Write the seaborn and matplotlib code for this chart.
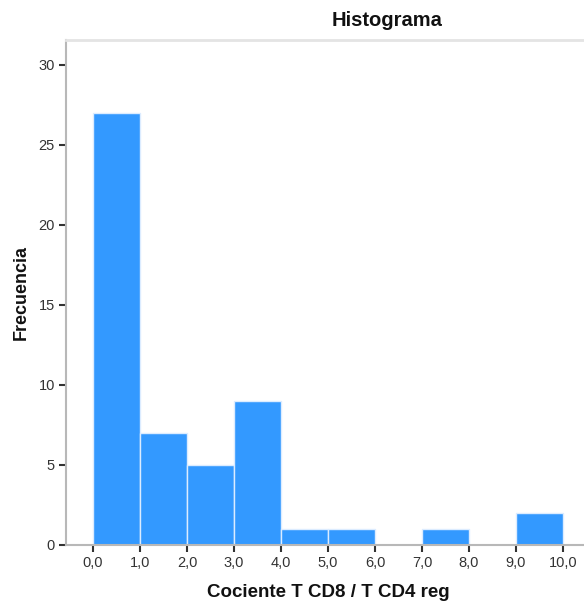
import numpy as np
import pandas as pd
import seaborn as sns
import matplotlib
matplotlib.use("Agg")
import matplotlib.pyplot as plt

bin_edges = [0, 1, 2, 3, 4, 5, 6, 7, 8, 9, 10]
counts = [27, 7, 5, 9, 1, 1, 0, 1, 0, 2]
x_ticks = [0, 1, 2, 3, 4, 5, 6, 7, 8, 9, 10]
x_tick_labels = ["0,0", "1,0", "2,0", "3,0", "4,0", "5,0", "6,0", "7,0", "8,0", "9,0", "10,0"]
y_ticks = [0, 5, 10, 15, 20, 25, 30]

sns.set_theme(style="white")
plt.rcParams['font.family'] = ['Liberation Sans', 'DejaVu Sans']

W, H = 584, 603
fig = plt.figure(figsize=(W / 100, H / 100), dpi=100)
left_px, right_px = 66, 708
top_px, bottom_px = 40, 545
ax = fig.add_axes([left_px / W, 1 - bottom_px / H, (right_px - left_px) / W, (bottom_px - top_px) / H])

centers = [(bin_edges[i] + bin_edges[i + 1]) / 2 for i in range(len(counts))]
df = pd.DataFrame({"x": centers, "w": counts})
sns.histplot(data=df, x="x", weights="w", bins=bin_edges, ax=ax,
             color="#3399ff", alpha=1.0, edgecolor="#dcecff", linewidth=1.0)

px_per_x = 47.0
x0_px = 93
ax.set_xlim((left_px - x0_px) / px_per_x, (right_px - x0_px) / px_per_x)
ax.set_ylim(0, (bottom_px - top_px) / 16.0)

ax.set_xticks(x_ticks)
ax.set_xticklabels(x_tick_labels)
ax.set_yticks(y_ticks)
ax.tick_params(axis="both", which="both", direction="out", length=5, width=1.5,
               color="#333333", labelsize=10.5, labelcolor="#333333", pad=3)
ax.tick_params(axis="x", bottom=True)
ax.tick_params(axis="y", left=True)

for s in ["left", "bottom"]:
    ax.spines[s].set_color("#b8b8b8")
    ax.spines[s].set_linewidth(1.5)
ax.spines["top"].set_color("#e4e4e4")
ax.spines["top"].set_linewidth(2)
ax.spines["right"].set_visible(False)

ax.set_xlabel("Cociente T CD8 / T CD4 reg", fontsize=13.5, fontweight="bold", color="#111111")
ax.xaxis.set_label_coords(((328 - left_px) / (right_px - left_px)), -(584 - 545) / (bottom_px - top_px))
ax.set_ylabel("Frecuencia", fontsize=13, fontweight="bold", color="#111111")
ax.yaxis.set_label_coords(-(66 - 30) / (right_px - left_px), 0.5)
ax.set_title("Histograma", fontsize=14.5, fontweight="bold", color="#111111", pad=10)

fig.savefig("out.png", dpi=100)
